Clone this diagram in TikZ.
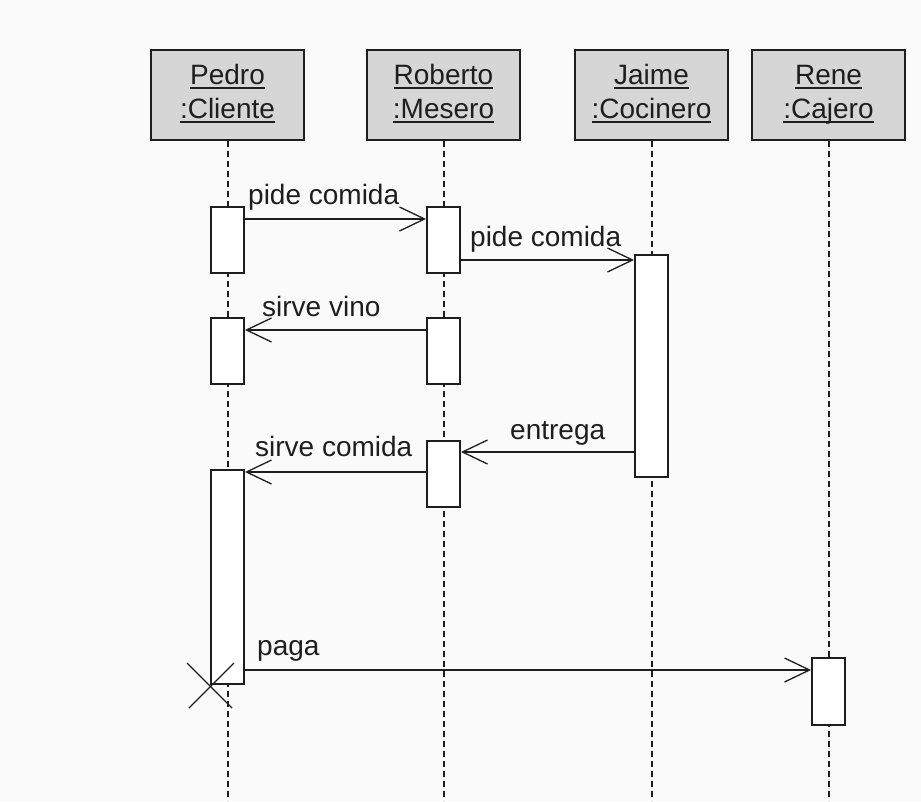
\documentclass[tikz,border=0pt]{standalone}
\usepackage{fontspec}
\setmainfont{Liberation Sans}
\usetikzlibrary{arrows.meta,calc}
\definecolor{paper}{RGB}{250,250,250}
\definecolor{headfill}{RGB}{214,214,214}
\definecolor{ink}{RGB}{30,30,30}
% underline at a fixed depth below the baseline, same line box for every name
\newcommand\objname[1]{\strut\setbox0\hbox{#1}\rlap{\rule[-4pt]{\wd0}{1.8pt}}\box0}
\begin{document}
\begin{tikzpicture}[x=1pt,y=-1pt,
  every node/.style={font=\fontsize{28}{34}\selectfont, text=ink},
  head/.style={draw=ink, line width=2pt, fill=headfill, minimum width=153pt,
    minimum height=90pt, inner sep=0pt, align=center},
  act/.style={draw=ink, line width=2pt, fill=white, minimum width=33pt, inner sep=0pt},
  life/.style={draw=ink, line width=2pt, dash pattern=on 6pt off 4pt},
  msg/.style={draw=ink, line width=2pt,
    -{Straight Barb[length=25pt,width=24pt,line width=1.3pt]}},
  lbl/.style={anchor=base west, inner sep=0pt}]
  % page
  \fill[paper] (0,0) rectangle (921,801);
  \path[use as bounding box] (0,0) rectangle (921,801);

  % objects
  \node[head] (ph) at (227.5,95) {\objname{Pedro}\\\objname{:Cliente}};
  \node[head] (rh) at (443.5,95) {\objname{Roberto}\\\objname{:Mesero}};
  \node[head] (jh) at (651.5,95) {\objname{Jaime}\\\objname{:Cocinero}};
  \node[head] (nh) at (828.5,95) {\objname{Rene}\\\objname{:Cajero}};

  % lifelines
  \coordinate (bottom) at (0,801);
  \foreach \h in {ph,rh,jh,nh}
    \draw[life] (\h.south) -- (\h.south |- bottom);

  % activation bars
  \node[act, minimum height=66pt]  (p1) at (227.5,240) {};
  \node[act, minimum height=66pt]  (p2) at (227.5,351) {};
  \node[act, minimum height=214pt] (p3) at (227.5,577) {};
  \node[act, minimum height=66pt]  (r1) at (443.5,240) {};
  \node[act, minimum height=66pt]  (r2) at (443.5,351) {};
  \node[act, minimum height=66pt]  (r3) at (443.5,474) {};
  \node[act, minimum height=222pt] (j1) at (651.5,366) {};
  \node[act, minimum height=67pt]  (n1) at (828.5,691.5) {};

  % message rows
  \coordinate (m1) at (0,219);
  \coordinate (m2) at (0,260);
  \coordinate (m3) at (0,330);
  \coordinate (m4) at (0,452);
  \coordinate (m5) at (0,472);
  \coordinate (m6) at (0,670);

  % messages
  \draw[msg] (p1.east |- m1) -- (r1.west |- m1);
  \draw[msg] (r1.east |- m2) -- (j1.west |- m2);
  \draw[msg] (r2.west |- m3) -- (p2.east |- m3);
  \draw[msg] (j1.west |- m4) -- (r3.east |- m4);
  \draw[msg] (r3.west |- m5) -- (p3.east |- m5);
  \draw[msg] (p3.east |- m6) -- (n1.west |- m6);

  % message labels
  \node[lbl] (l1) at (248,204) {pide comida};
  \node[lbl] (l2) at (470,246) {pide comida};
  \node[lbl] (l3) at (262,316) {sirve vino};
  \node[lbl] (l4) at (510,439) {entrega};
  \node[lbl] (l5) at (255,456) {sirve comida};
  \node[lbl] (l6) at (257,655) {paga};

  % destruction of the client
  \draw[ink, line width=1.3pt] ($(p3.south west)+(-23,-22)$) -- ++(45,45);
  \draw[ink, line width=1.3pt] ($(p3.south west)+(24,-22)$) -- ++(-45,45);
\end{tikzpicture}
\end{document}
